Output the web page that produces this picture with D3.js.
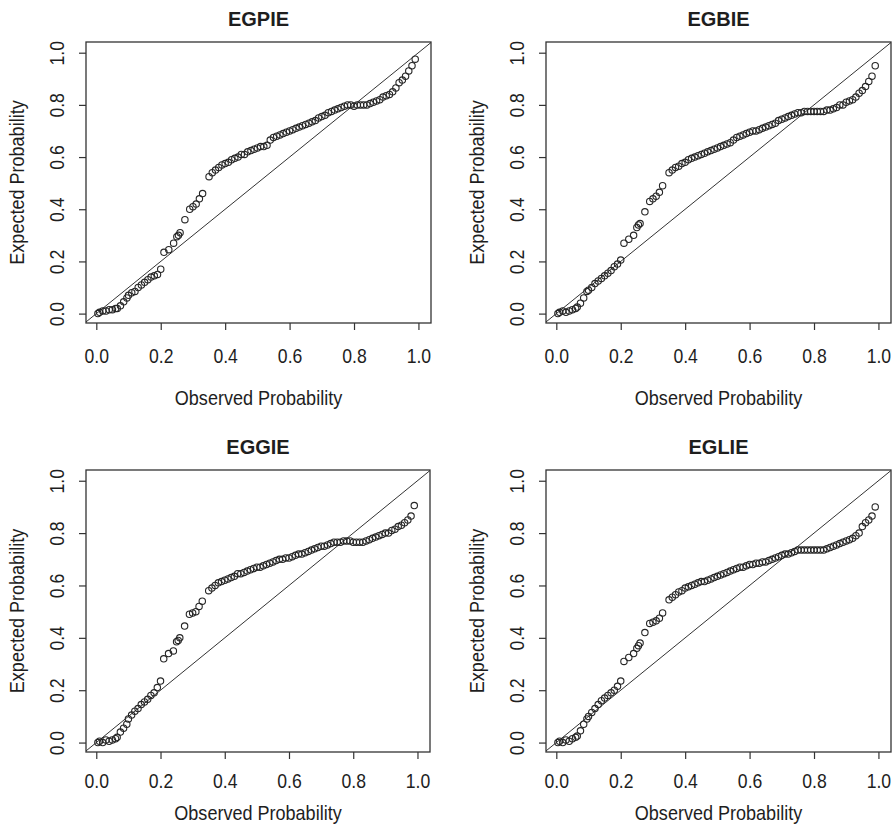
<!DOCTYPE html>
<html>
<head>
<meta charset="utf-8">
<script src="https://cdn.jsdelivr.net/npm/d3@7"></script>
<style>
  body { margin: 0; background: #fff; }
  text { font-family: 'Liberation Sans', Arial, sans-serif; fill: #1e1e1e; }
</style>
</head>
<body>
<div id="divPlots"></div>
<script>
// data

var panelTitles = ['EGPIE', 'EGBIE', 'EGGIE', 'EGLIE']
var tickValues = [0, 0.2, 0.4, 0.6, 0.8, 1.0]
var xLabel = 'Observed Probability'
var yLabel = 'Expected Probability'

// observed probabilities (shared by all four panels)
var observedProb = [
  0.005, 0.01, 0.02, 0.03, 0.04, 0.05, 0.06, 0.065,
  0.075, 0.085, 0.095, 0.10, 0.11, 0.12, 0.13, 0.14, 0.15, 0.16, 0.17, 0.18, 0.19, 0.20,
  0.21, 0.225, 0.24, 0.25, 0.255, 0.26,
  0.275,
  0.29, 0.30, 0.31, 0.32, 0.33,
  0.35, 0.36, 0.37, 0.38, 0.39, 0.40, 0.41, 0.42, 0.43, 0.44,
  0.45, 0.46, 0.47, 0.48, 0.49, 0.50, 0.51, 0.52, 0.53, 0.54,
  0.55, 0.56, 0.57, 0.58, 0.59, 0.60, 0.61, 0.62, 0.63, 0.64,
  0.65, 0.66, 0.67, 0.68, 0.69, 0.70, 0.71, 0.72, 0.73, 0.74,
  0.75, 0.76, 0.77, 0.78, 0.79, 0.80, 0.81, 0.82, 0.83, 0.84,
  0.85, 0.86, 0.87, 0.88, 0.89, 0.90, 0.91, 0.92, 0.93, 0.94,
  0.95, 0.96, 0.97, 0.98, 0.99
]

var expEGPIE = [
  0.0, 0.005, 0.01, 0.01, 0.015, 0.015, 0.02, 0.02,
  0.03, 0.045, 0.06, 0.07, 0.08, 0.085, 0.10, 0.11, 0.12, 0.13, 0.14, 0.145, 0.15, 0.17,
  0.235, 0.245, 0.27, 0.295, 0.30, 0.31,
  0.36,
  0.40, 0.41, 0.42, 0.44, 0.46,
  0.525, 0.54, 0.55, 0.56, 0.57, 0.575, 0.58, 0.59, 0.595, 0.60,
  0.61, 0.61, 0.62, 0.625, 0.63, 0.635, 0.64, 0.64, 0.645, 0.665,
  0.675, 0.68, 0.685, 0.69, 0.695, 0.70, 0.705, 0.71, 0.715, 0.72,
  0.725, 0.73, 0.735, 0.74, 0.75, 0.755, 0.76, 0.77, 0.775, 0.78,
  0.785, 0.79, 0.795, 0.80, 0.80, 0.795, 0.80, 0.80, 0.80, 0.80,
  0.805, 0.81, 0.815, 0.82, 0.83, 0.835, 0.84, 0.85, 0.865, 0.885,
  0.895, 0.91, 0.93, 0.95, 0.975
]

var expEGBIE = [
  0.0, 0.005, 0.01, 0.005, 0.01, 0.015, 0.02, 0.025,
  0.04, 0.06, 0.085, 0.09, 0.10, 0.115, 0.125, 0.135, 0.145, 0.155, 0.165, 0.18, 0.19, 0.205,
  0.27, 0.285, 0.30, 0.33, 0.34, 0.345,
  0.39,
  0.43, 0.44, 0.45, 0.465, 0.49,
  0.54, 0.55, 0.56, 0.565, 0.575, 0.58, 0.59, 0.595, 0.60, 0.605,
  0.61, 0.615, 0.62, 0.625, 0.63, 0.635, 0.64, 0.645, 0.65, 0.655,
  0.665, 0.675, 0.68, 0.685, 0.69, 0.695, 0.70, 0.70, 0.705, 0.71,
  0.715, 0.72, 0.725, 0.73, 0.74, 0.745, 0.75, 0.755, 0.76, 0.765,
  0.77, 0.77, 0.775, 0.775, 0.775, 0.775, 0.775, 0.775, 0.775, 0.78,
  0.78, 0.785, 0.79, 0.80, 0.80, 0.81, 0.815, 0.82, 0.83, 0.845,
  0.855, 0.87, 0.89, 0.91, 0.95
]

var expEGGIE = [
  0.0, 0.005, 0.0, 0.01, 0.005, 0.01, 0.015, 0.02,
  0.04, 0.055, 0.07, 0.09, 0.105, 0.12, 0.13, 0.145, 0.155, 0.165, 0.18, 0.19, 0.21, 0.235,
  0.32, 0.34, 0.35, 0.385, 0.39, 0.40,
  0.445,
  0.49, 0.495, 0.50, 0.52, 0.54,
  0.58, 0.59, 0.60, 0.61, 0.615, 0.62, 0.625, 0.63, 0.635, 0.645,
  0.645, 0.65, 0.655, 0.66, 0.665, 0.67, 0.67, 0.675, 0.68, 0.685,
  0.69, 0.695, 0.70, 0.70, 0.705, 0.705, 0.71, 0.715, 0.72, 0.72,
  0.725, 0.73, 0.735, 0.74, 0.745, 0.75, 0.75, 0.755, 0.76, 0.765,
  0.765, 0.765, 0.77, 0.77, 0.77, 0.765, 0.765, 0.765, 0.765, 0.77,
  0.775, 0.78, 0.785, 0.79, 0.795, 0.80, 0.80, 0.81, 0.815, 0.825,
  0.83, 0.84, 0.85, 0.865, 0.905
]

var expEGLIE = [
  0.0, 0.005, 0.0, 0.01, 0.005, 0.015, 0.02, 0.025,
  0.045, 0.07, 0.09, 0.10, 0.115, 0.13, 0.145, 0.16, 0.17, 0.18, 0.19, 0.20, 0.215, 0.235,
  0.31, 0.325, 0.34, 0.36, 0.37, 0.38,
  0.42,
  0.455, 0.46, 0.465, 0.475, 0.495,
  0.545, 0.555, 0.565, 0.575, 0.58, 0.59, 0.595, 0.60, 0.605, 0.61,
  0.615, 0.615, 0.62, 0.625, 0.63, 0.635, 0.64, 0.645, 0.65, 0.655,
  0.66, 0.665, 0.67, 0.67, 0.675, 0.68, 0.68, 0.685, 0.685, 0.69,
  0.69, 0.695, 0.70, 0.705, 0.71, 0.715, 0.72, 0.72, 0.725, 0.73,
  0.735, 0.735, 0.735, 0.735, 0.735, 0.735, 0.735, 0.735, 0.735, 0.74,
  0.745, 0.75, 0.755, 0.76, 0.765, 0.77, 0.775, 0.78, 0.79, 0.80,
  0.825, 0.84, 0.85, 0.865, 0.90
]

// layout of each panel: box edges and offsets of the text below the box
var panels = [
  { title: panelTitles[0], exp: expEGPIE, left: 86, right: 431, top: 42, bottom: 323, tickGap: 40, labelGap: 82 },
  { title: panelTitles[1], exp: expEGBIE, left: 546, right: 891, top: 42, bottom: 323, tickGap: 40, labelGap: 82 },
  { title: panelTitles[2], exp: expEGGIE, left: 86, right: 430, top: 470, bottom: 752, tickGap: 36, labelGap: 68 },
  { title: panelTitles[3], exp: expEGLIE, left: 546, right: 891, top: 470, bottom: 752, tickGap: 36, labelGap: 68 }
]

var settings = {
  width: 895,
  height: 826,
  xDomain: [-0.032, 1.039],
  yDomain: [-0.036, 1.041],
  lineColor: '#333',
  pointColor: '#262626',
  // the source picture is a little squeezed sideways
  squeeze: 'scale(0.88,1)'
}

var svg = d3
  .select('#divPlots')
  .append('svg')
  .attr('width', settings.width)
  .attr('height', settings.height)

panels.forEach(function (p, idx) {
  drawPanel(p, idx)
})

// draws one P-P plot in R's base graphics look
function drawPanel (p, idx) {
  var xScale = d3.scaleLinear().domain(settings.xDomain).range([p.left, p.right])
  var yScale = d3.scaleLinear().domain(settings.yDomain).range([p.bottom, p.top])
  var g = svg.append('g').attr('id', 'g-panel' + idx)

  // clip for the reference line
  svg.append('clipPath')
    .attr('id', 'clip' + idx)
    .append('rect')
    .attr('x', p.left)
    .attr('y', p.top)
    .attr('width', p.right - p.left)
    .attr('height', p.bottom - p.top)

  // axes
  var xAxis = d3.axisBottom(xScale)
    .tickValues(tickValues)
    .tickFormat(d3.format('.1f'))
    .tickSize(7)
    .tickSizeOuter(0)
  var yAxis = d3.axisLeft(yScale)
    .tickValues(tickValues)
    .tickFormat(d3.format('.1f'))
    .tickSize(7)
    .tickSizeOuter(0)

  var gx = g.append('g')
    .attr('transform', 'translate(0,' + p.bottom + ')')
    .call(xAxis)
  gx.select('.domain').remove()
  gx.selectAll('line').attr('stroke', settings.lineColor).attr('stroke-width', 1.2)
  gx.selectAll('text')
    .attr('y', p.tickGap)
    .attr('dy', 0)
    .attr('transform', settings.squeeze)
    .attr('fill', '#1e1e1e')
    .style('font-size', '20px')
    .style('font-family', "'Liberation Sans', Arial, sans-serif")

  var gy = g.append('g')
    .attr('transform', 'translate(' + p.left + ',0)')
    .call(yAxis)
  gy.select('.domain').remove()
  gy.selectAll('line').attr('stroke', settings.lineColor).attr('stroke-width', 1.2)
  gy.selectAll('text')
    .attr('x', 0)
    .attr('y', -22)
    .attr('dy', 0)
    .attr('transform', 'rotate(-90)' + settings.squeeze)
    .style('text-anchor', 'middle')
    .attr('fill', '#1e1e1e')
    .style('font-size', '20px')
    .style('font-family', "'Liberation Sans', Arial, sans-serif")

  // diagonal reference line y = x
  g.append('line')
    .attr('clip-path', 'url(#clip' + idx + ')')
    .attr('x1', xScale(-0.1))
    .attr('y1', yScale(-0.1))
    .attr('x2', xScale(1.1))
    .attr('y2', yScale(1.1))
    .attr('stroke', settings.lineColor)
    .attr('stroke-width', 1)

  // points
  g.append('g')
    .selectAll('circle')
    .data(observedProb)
    .enter()
    .append('circle')
    .attr('cx', function (d) {
      return xScale(d)
    })
    .attr('cy', function (d, i) {
      return yScale(p.exp[i])
    })
    .attr('r', 3.2)
    .attr('fill', 'none')
    .attr('stroke', settings.pointColor)
    .attr('stroke-width', 1.1)

  // box
  g.append('rect')
    .attr('x', p.left)
    .attr('y', p.top)
    .attr('width', p.right - p.left)
    .attr('height', p.bottom - p.top)
    .attr('fill', 'none')
    .attr('stroke', settings.lineColor)
    .attr('stroke-width', 1.3)

  // title and axis labels
  g.append('text')
    .attr('x', (p.left + p.right) / 2)
    .attr('y', p.top - 16)
    .attr('text-anchor', 'middle')
    .style('font-size', '20px')
    .style('font-weight', 'bold')
    .text(p.title)
  g.append('text')
    .attr('transform', 'translate(' + (p.left + p.right) / 2 + ',' + (p.bottom + p.labelGap) + ')' + settings.squeeze)
    .attr('text-anchor', 'middle')
    .style('font-size', '20.5px')
    .text(xLabel)
  g.append('text')
    .attr('transform', 'translate(' + (p.left - 62) + ',' + (p.top + p.bottom) / 2 + ')rotate(-90)' + settings.squeeze)
    .attr('text-anchor', 'middle')
    .style('font-size', '20.5px')
    .text(yLabel)
}
</script>
</body>
</html>
